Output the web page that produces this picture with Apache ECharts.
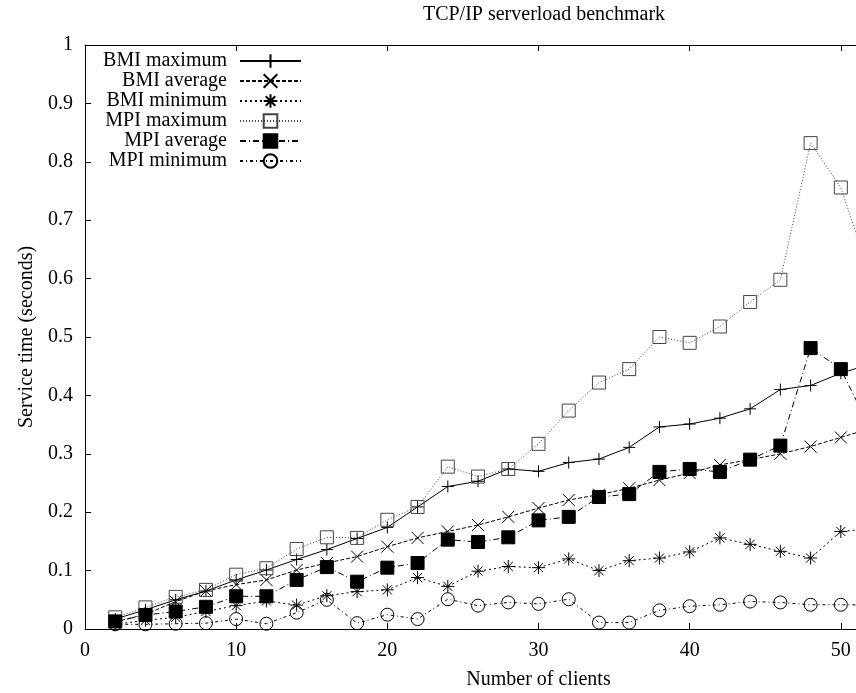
<!DOCTYPE html>
<html>
<head>
<meta charset="utf-8">
<script src="https://cdn.jsdelivr.net/npm/echarts@6/dist/echarts.min.js"></script>
<style>html,body{margin:0;padding:0;background:#fff}#c{width:856px;height:693px}</style>
</head>
<body>
<div id="c"></div>
<script>
const clients = [2,4,6,8,10,12,14,16,18,20,22,24,26,28,30,32,34,36,38,40,42,44,46,48,50,52];
const bmiMax = [0.017,0.033,0.05,0.065,0.084,0.101,0.119,0.136,0.155,0.174,0.209,0.244,0.253,0.274,0.27,0.285,0.291,0.311,0.346,0.351,0.361,0.377,0.41,0.417,0.438,0.454];
const bmiAvg = [0.012,0.025,0.047,0.065,0.076,0.084,0.101,0.113,0.124,0.141,0.156,0.167,0.178,0.192,0.207,0.221,0.23,0.241,0.255,0.267,0.281,0.29,0.30,0.3125,0.328,0.344];
const bmiMin = [0.008,0.015,0.02,0.03,0.04,0.048,0.041,0.057,0.064,0.067,0.088,0.073,0.099,0.107,0.105,0.12,0.10,0.117,0.1215,0.132,0.156,0.145,0.133,0.1215,0.167,0.172];
const mpiMax = [0.02,0.037,0.055,0.067,0.093,0.104,0.137,0.157,0.156,0.187,0.209,0.278,0.261,0.274,0.317,0.374,0.422,0.445,0.50,0.49,0.518,0.56,0.598,0.832,0.756,0.60];
const mpiAvg = [0.013,0.024,0.03,0.038,0.056,0.056,0.084,0.106,0.081,0.105,0.113,0.153,0.149,0.157,0.186,0.192,0.226,0.231,0.269,0.274,0.269,0.29,0.314,0.481,0.445,0.34];
const mpiMin = [0.008,0.008,0.009,0.01,0.017,0.009,0.028,0.05,0.01,0.0245,0.017,0.051,0.04,0.0455,0.043,0.051,0.011,0.011,0.032,0.039,0.0415,0.047,0.0455,0.0415,0.0415,0.041];
const names = ['BMI maximum','BMI average','BMI minimum','MPI maximum','MPI average','MPI minimum'];
const xTicks = [0,10,20,30,40,50,60];

const FONT = 'Liberation Serif';
const pair = a => clients.map((c,i)=>[c,a[i]]);
const PLUS = 'path://M0,5L10,5M5,0L5,10';
const CROSS = 'path://M0,0L10,10M10,0L0,10';
const STAR = 'path://M0,5L10,5M5,0L5,10M1.5,1.5L8.5,8.5M8.5,1.5L1.5,8.5';

function mk(name, data, symbol, size, dash, lineColor, fill, stroke){
  return {
    name, type:'line', data: pair(data), symbol, symbolSize:size,
    lineStyle:{color:lineColor, width:1, type:dash},
    itemStyle:{color:fill, borderColor:stroke, borderWidth:1},
    emphasis:{disabled:true}, z:2
  };
}

const chart = echarts.init(document.getElementById('c'), null, {renderer:'canvas'});
chart.setOption({
  animation:false,
  backgroundColor:'#fff',
  title:{text:'TCP/IP serverload benchmark', left:539, textAlign:'center', top:0,
    textStyle:{fontFamily:FONT, fontSize:20, fontWeight:'normal', color:'#000'}},
  legend:{
    orient:'vertical', align:'right', right:554, top:51, padding:0,
    itemWidth:61, itemHeight:17, itemGap:0,
    textStyle:{fontFamily:FONT, fontSize:20, color:'#000', lineHeight:20, padding:[0,8,0,0]},
    data:names
  },
  grid:{left:85, top:45, width:907, height:584, containLabel:false, outerBoundsMode:'none'},
  xAxis:[{
    type:'value', min:xTicks[0], max:xTicks[xTicks.length-1], interval:10, position:'bottom',
    name:'Number of clients', nameLocation:'middle', nameGap:41,
    nameTextStyle:{fontFamily:FONT, fontSize:20, color:'#000'},
    axisLine:{show:true, onZero:false, lineStyle:{color:'#000', width:1}},
    axisTick:{inside:true, length:6, lineStyle:{color:'#000'}},
    axisLabel:{fontFamily:FONT, fontSize:20, color:'#000', margin:12},
    splitLine:{show:false}
  },{
    type:'value', min:xTicks[0], max:xTicks[xTicks.length-1], interval:10, position:'top',
    axisLine:{show:true, onZero:false, lineStyle:{color:'#000', width:1}},
    axisTick:{inside:true, length:6, lineStyle:{color:'#000'}},
    axisLabel:{show:false}, splitLine:{show:false}
  }],
  yAxis:{
    type:'value', min:0, max:1, interval:0.1,
    name:'Service time (seconds)', nameLocation:'middle', nameGap:48,
    nameTextStyle:{fontFamily:FONT, fontSize:20, color:'#000'},
    axisLine:{show:true, lineStyle:{color:'#000', width:1}},
    axisTick:{inside:true, length:6, lineStyle:{color:'#000'}},
    axisLabel:{fontFamily:FONT, fontSize:20, color:'#000', margin:12},
    splitLine:{show:false}
  },
  series:[
    mk(names[0], bmiMax, PLUS, 12, 'solid', '#000', 'none', '#000'),
    mk(names[1], bmiAvg, CROSS, 12, [4,2], '#000', 'none', '#000'),
    mk(names[2], bmiMin, STAR, 13, [2,3], '#000', 'none', '#000'),
    mk(names[3], mpiMax, 'rect', 13, [1,2], '#444', 'none', '#444'),
    mk(names[4], mpiAvg, 'rect', 13, [6,3,1,3], '#000', '#000', '#000'),
    mk(names[5], mpiMin, 'circle', 13, [3,3,1,3], '#000', 'none', '#000')
  ]
});
</script>
</body>
</html>
